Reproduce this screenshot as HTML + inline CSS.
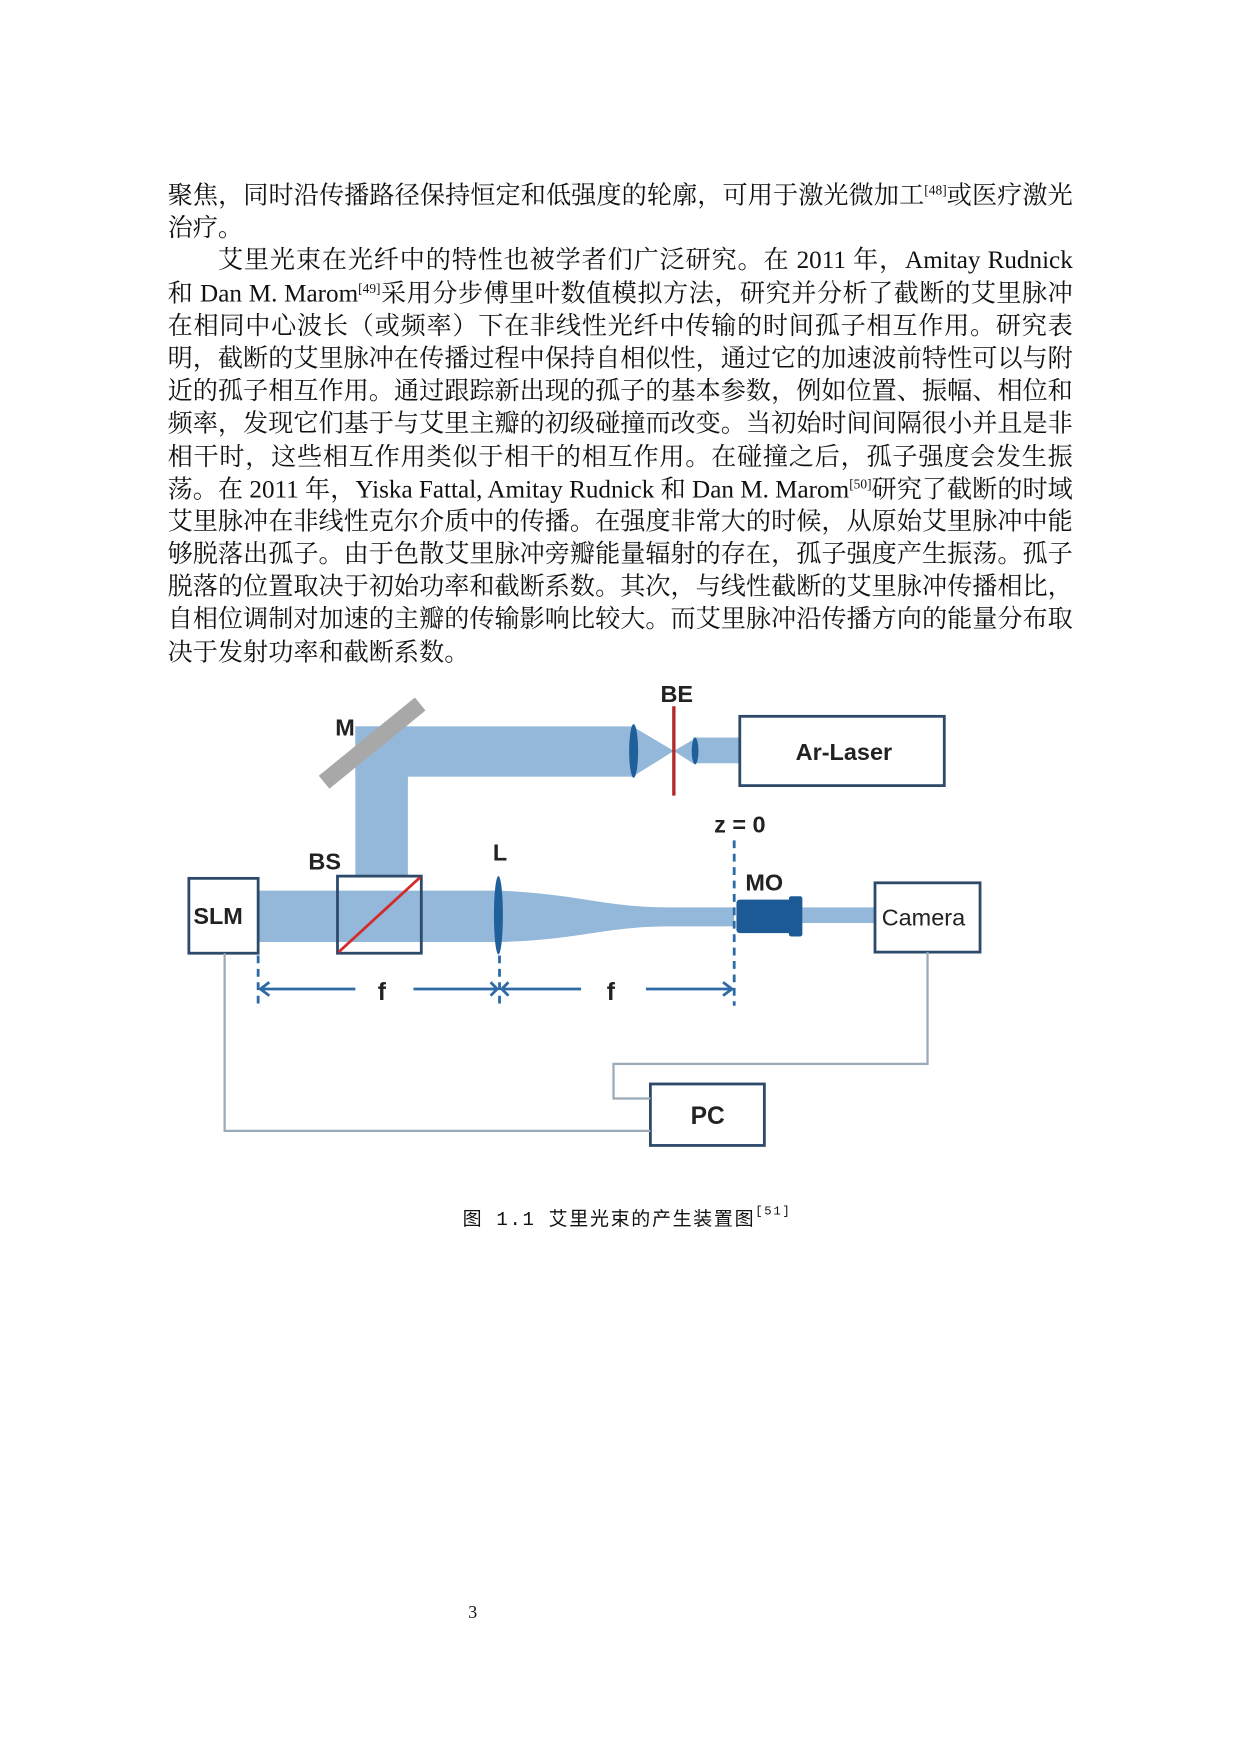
<!DOCTYPE html>
<html><head><meta charset="utf-8"><style>
html,body{margin:0;padding:0;background:#fff;width:1240px;height:1754px;overflow:hidden}
#p{position:absolute;left:0;top:0;width:1100px;height:1570px;transform:scale(1.1175);transform-origin:0 0}
.t{position:absolute;left:150px;width:810px;font-family:"Liberation Serif","Noto Serif CJK SC",serif;font-size:22.5px;line-height:29.2px;color:#111}
.l{height:29.2px;text-align:justify;text-align-last:justify;white-space:nowrap}
.n{text-align-last:left}
sup{font-size:12px;line-height:0;vertical-align:8px}
svg{position:absolute;left:0;top:0}
</style></head><body><div id="p">
<div class="t" style="top:160px">
<div class="l">聚焦，同时沿传播路径保持恒定和低强度的轮廓，可用于激光微加工<sup>[48]</sup>或医疗激光</div>
<div class="l n">治疗。</div>
<div class="l" style="padding-left:45px">艾里光束在光纤中的特性也被学者们广泛研究。在 2011 年，Amitay Rudnick</div>
<div class="l">和 Dan M. Marom<sup>[49]</sup>采用分步傅里叶数值模拟方法，研究并分析了截断的艾里脉冲</div>
<div class="l">在相同中心波长（或频率）下在非线性光纤中传输的时间孤子相互作用。研究表</div>
<div class="l">明，截断的艾里脉冲在传播过程中保持自相似性，通过它的加速波前特性可以与附</div>
<div class="l">近的孤子相互作用。通过跟踪新出现的孤子的基本参数，例如位置、振幅、相位和</div>
<div class="l">频率，发现它们基于与艾里主瓣的初级碰撞而改变。当初始时间间隔很小并且是非</div>
<div class="l">相干时，这些相互作用类似于相干的相互作用。在碰撞之后，孤子强度会发生振</div>
<div class="l">荡。在 2011 年，Yiska Fattal, Amitay Rudnick 和 Dan M. Marom<sup>[50]</sup>研究了截断的时域</div>
<div class="l">艾里脉冲在非线性克尔介质中的传播。在强度非常大的时候，从原始艾里脉冲中能</div>
<div class="l">够脱落出孤子。由于色散艾里脉冲旁瓣能量辐射的存在，孤子强度产生振荡。孤子</div>
<div class="l">脱落的位置取决于初始功率和截断系数。其次，与线性截断的艾里脉冲传播相比，</div>
<div class="l">自相位调制对加速的主瓣的传输影响比较大。而艾里脉冲沿传播方向的能量分布取</div>
<div class="l n">决于发射功率和截断系数。</div>
</div>
<svg width="1100" height="1570" viewBox="0 0 1100 1570" font-family="Liberation Sans, DejaVu Sans, sans-serif">
<g fill="#93b8d9">
<rect x="318" y="650" width="248" height="45"/>
<rect x="318" y="650" width="47" height="135"/>
<polygon points="566,650 603,672 566,695"/>
<polygon points="603,672 620,662 620,683"/>
<rect x="620" y="660" width="42" height="23"/>
<rect x="230" y="797" width="216" height="46"/>
<path d="M446,797 C520,800 540,812 600,812 L657,812 L657,829 L600,829 C540,829 520,841 446,843 Z"/>
<rect x="718" y="812" width="65" height="14"/>
</g>
<line x1="290" y1="700" x2="376" y2="630" stroke="#a8a8a8" stroke-width="15"/>
<rect x="662" y="641" width="183" height="62" fill="#fff" stroke="#2e4a6b" stroke-width="2.5"/>
<rect x="169" y="786" width="62" height="67" fill="#fff" stroke="#2e4a6b" stroke-width="2.5"/>
<rect x="302" y="784" width="75" height="69" fill="none" stroke="#2e4a6b" stroke-width="2.5"/>
<line x1="303" y1="852" x2="376" y2="785" stroke="#d42a2a" stroke-width="2.5"/>
<rect x="783" y="790" width="94" height="62" fill="#fff" stroke="#2e4a6b" stroke-width="2.5"/>
<rect x="582" y="970" width="102" height="55" fill="#fff" stroke="#2e4a6b" stroke-width="2.5"/>
<line x1="603" y1="632" x2="603" y2="712" stroke="#b02a2a" stroke-width="3"/>
<g fill="#1f5f9a">
<ellipse cx="567" cy="672" rx="4" ry="24"/>
<ellipse cx="622" cy="672" rx="3" ry="12"/>
<ellipse cx="446" cy="819" rx="4" ry="35"/>
<rect x="659" y="805" width="52" height="30" rx="3" fill="#1c5a96"/>
<rect x="706" y="802" width="12" height="36" rx="2" fill="#1c5a96"/>
</g>
<g stroke="#2d6aa6" stroke-width="2.5" fill="none">
<line x1="657" y1="752" x2="657" y2="900" stroke-dasharray="7,5"/>
<line x1="231" y1="855" x2="231" y2="898" stroke-dasharray="7,5"/>
<line x1="447" y1="855" x2="447" y2="898" stroke-dasharray="7,5"/>
<line x1="233" y1="885" x2="318" y2="885"/>
<line x1="370" y1="885" x2="445" y2="885"/>
<line x1="449" y1="885" x2="520" y2="885"/>
<line x1="578" y1="885" x2="655" y2="885"/>
<polyline points="241,879 233,885 241,891"/>
<polyline points="439,879 445,885 439,891"/>
<polyline points="455,879 449,885 455,891"/>
<polyline points="647,879 655,885 647,891"/>
</g>
<g stroke="#9aaab8" stroke-width="2" fill="none">
<polyline points="201,853 201,1012 582,1012"/>
<polyline points="830,852 830,952 549,952 549,983 582,983"/>
</g>
<g fill="#222" font-size="21" font-weight="bold">
<text x="300" y="658">M</text>
<text x="591" y="628">BE</text>
<text x="712" y="680">Ar-Laser</text>
<text x="639" y="745">z = 0</text>
<text x="276" y="778">BS</text>
<text x="441" y="770">L</text>
<text x="667" y="797">MO</text>
<text x="173" y="827">SLM</text>
<text x="789" y="828" font-weight="normal">Camera</text>
<text x="618" y="1006" font-size="22">PC</text>
<text x="338" y="895" font-size="22">f</text>
<text x="543" y="895" font-size="22">f</text>
</g>
<text x="414" y="1096" font-family="Liberation Mono, Noto Sans CJK SC, monospace" font-size="17" letter-spacing="1.5" fill="#111">图 1.1 艾里光束的产生装置图<tspan font-size="11" dy="-9">[51]</tspan></text>
<text x="419" y="1448" font-family="Liberation Serif, serif" font-size="16" fill="#111">3</text>
</svg>
</div></body></html>
